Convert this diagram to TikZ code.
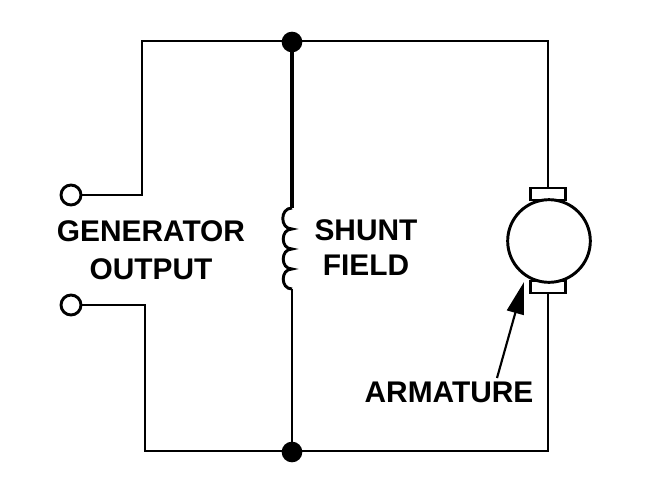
\documentclass[tikz,border=0pt]{standalone}
\usepackage{fontspec}
\setmainfont{Liberation Sans}
\usetikzlibrary{positioning,calc,arrows.meta}

\begin{document}
\begin{tikzpicture}[x=0.75pt,y=-0.75pt,line width=2.2pt,
  every node/.style={circle,outer sep=0pt},
  termnode/.style={draw,fill=white,inner sep=0pt,minimum size=15pt},
  joinnode/.style={fill=black,inner sep=0pt,minimum size=15.5pt},
  brushnode/.style={draw,rectangle,fill=white,inner sep=0pt,minimum width=26pt,minimum height=9pt},
  motornode/.style={draw,fill=white,inner sep=0pt,minimum size=62pt},
  txtnode/.style={rectangle,inner sep=0pt,font=\bfseries\fontsize{22.4}{22.4}\selectfont}
]
\useasboundingbox (0,0) rectangle (647,500);

% the terminals
\node[termnode] (T1) at (71,195) {};
\node[termnode] (T2) at (71,305) {};

% the junctions
\node[joinnode] (J1) at (292,42) {};
\node[joinnode] (J2) at (292,452) {};

% the corners
\coordinate (C1) at (142,195);
\coordinate (C2) at (142,41);
\coordinate (C3) at (548,41);
\coordinate (C4) at (548,451);
\coordinate (C5) at (145,451);
\coordinate (C6) at (145,305);

% the coil ends
\coordinate (L1) at (292,208);
\coordinate (L2) at (292,229);
\coordinate (L3) at (292,249);
\coordinate (L4) at (292,269);
\coordinate (L5) at (292,289);

% the edges
\draw (T1) -- (C1) -- (C2) -- (C3) -- (C4) -- (C5) -- (C6) -- (T2);

% the shunt field
\draw[line width=3pt] (J1) -- (L1);
\draw (J2) -- (L5);
\draw (L1) to[out=180,in=180,looseness=1.5] (L2)
  to[out=180,in=180,looseness=1.5] (L3)
  to[out=180,in=180,looseness=1.5] (L4)
  to[out=180,in=180,looseness=1.5] (L5);

% the armature
\node[brushnode] (B1) at (548,194) {};
\node[brushnode] (B2) at (548,287) {};
\node[motornode] (M) at (549,241) {};

%labels
\node[txtnode] (G) at (151,231) {GENERATOR};
\node[txtnode] (O) at (151,269) {OUTPUT};
\node[txtnode] (S) at (366,230) {SHUNT};
\node[txtnode] (F) at (366,265) {FIELD};
\node[txtnode] (A) at (449,392) {ARMATURE};

%armature arrow
\coordinate (P1) at (497,378);
\coordinate (P2) at (524,282);
\draw[-{Triangle[length=24pt,width=13pt]},line width=1.6pt] (P1) -- (P2);

\end{tikzpicture}
\end{document}
